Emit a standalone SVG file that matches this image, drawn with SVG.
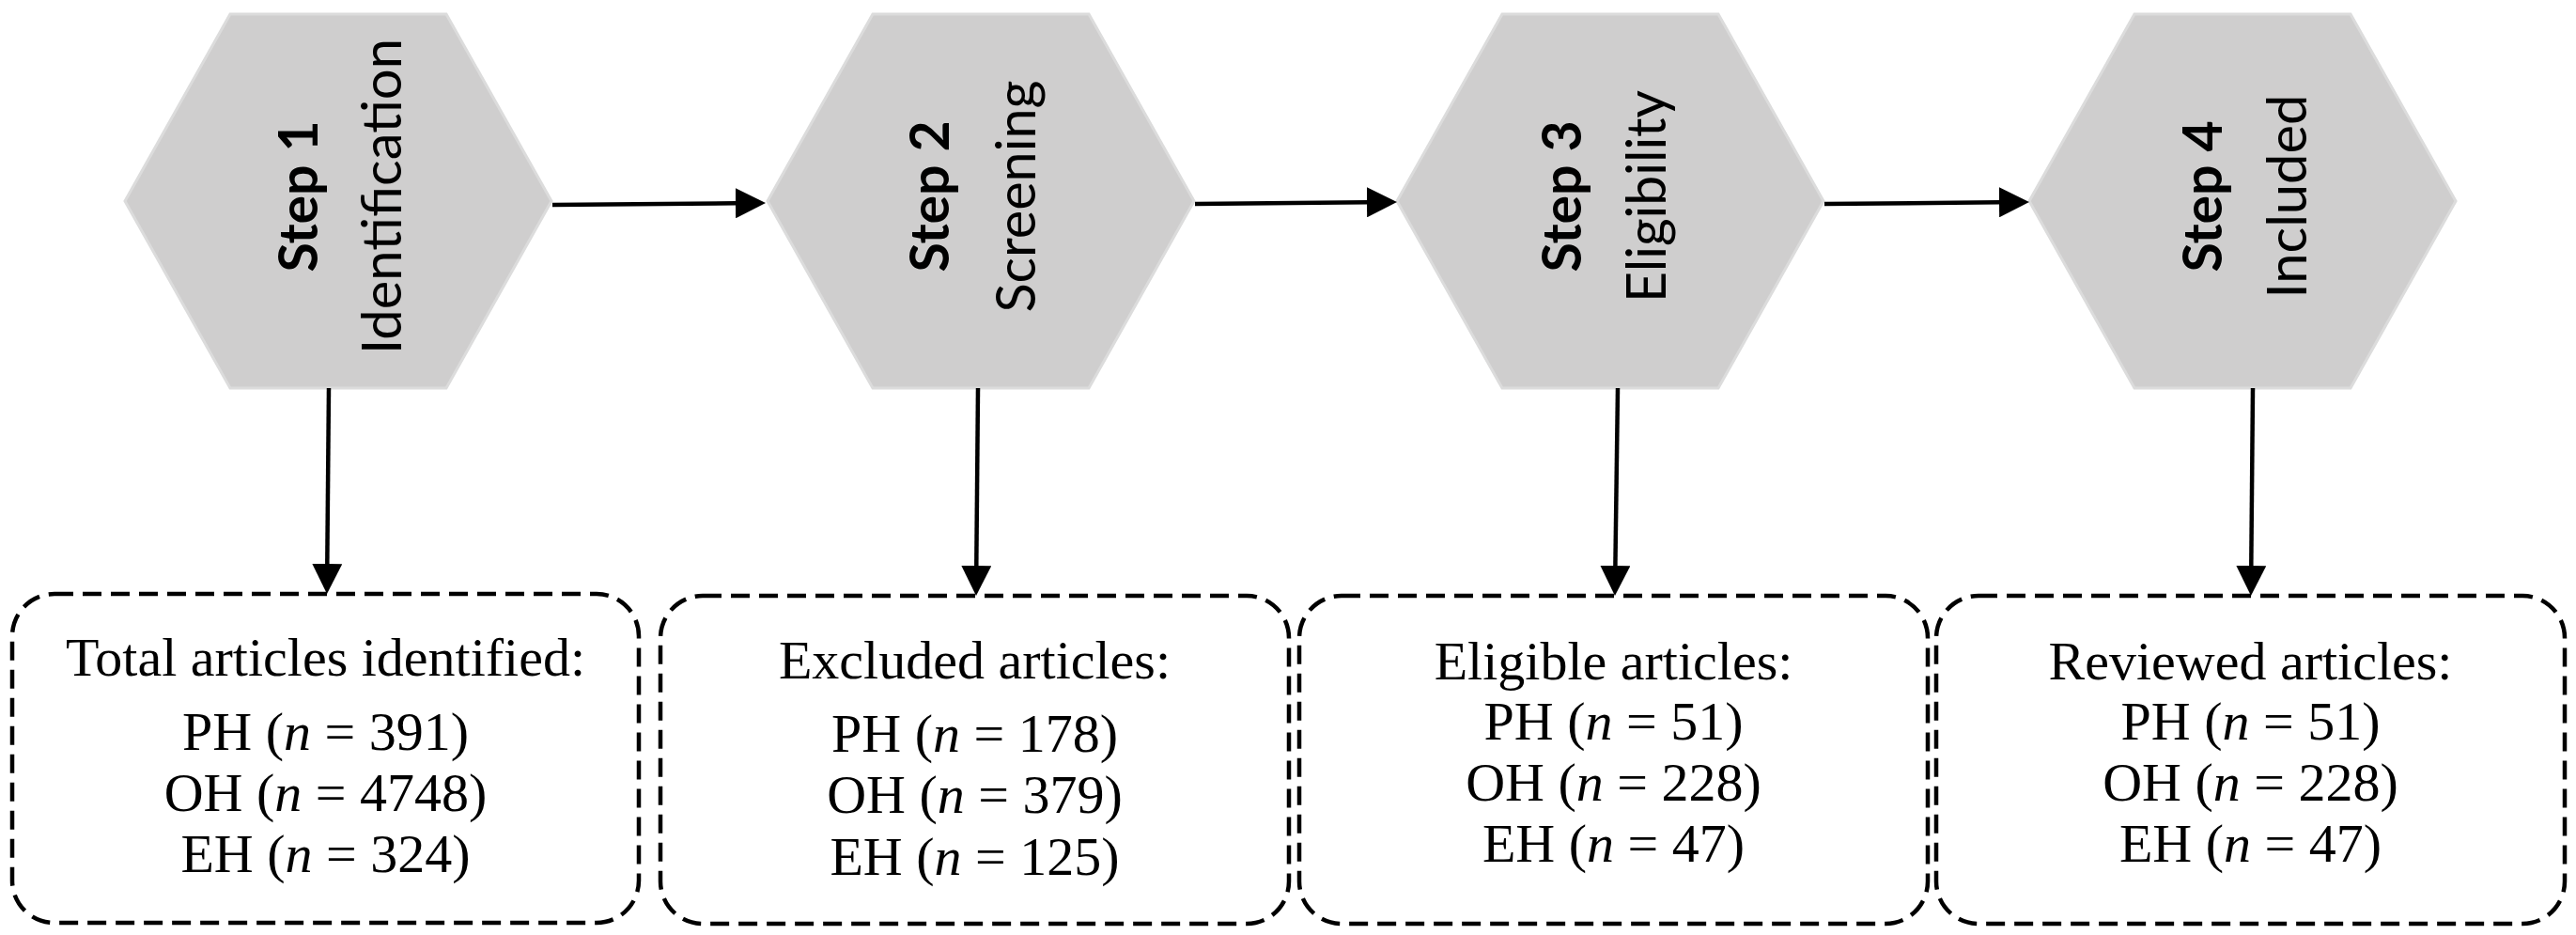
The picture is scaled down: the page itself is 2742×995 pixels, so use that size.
<svg xmlns="http://www.w3.org/2000/svg" width="2742" height="995" viewBox="0 0 2742 995">
<style>
.hex{fill:#cfcece;stroke:#dcdcdc;stroke-width:3}
.step{font-family:Lato,"Open Sans","Liberation Sans",sans-serif;font-size:58px;font-weight:bold;fill:#000;text-anchor:middle}
.lbl{font-family:Lato,"Open Sans","Liberation Sans",sans-serif;font-size:58px;fill:#000;text-anchor:middle}
.box{fill:none;stroke:#000;stroke-width:4.5;stroke-dasharray:20 10}
.bt{font-family:"Liberation Serif","Times New Roman",serif;font-size:58px;fill:#000;text-anchor:middle}
.conn{stroke:#000;stroke-width:4.5;fill:none}
.i{font-style:italic}
</style>
<defs>
<marker id="ah" viewBox="0 0 32 32" refX="0" refY="16" markerWidth="32" markerHeight="32" markerUnits="userSpaceOnUse" orient="auto">
<path d="M0,0 L32,16 L0,32 Z" fill="#000"/>
</marker>
</defs>

<g id="step1">
<polygon class="hex" points="133,214 245,15 475,15 587,214 475,413 245,413"/>
<text class="step" transform="translate(338,209) rotate(-90)" textLength="161" lengthAdjust="spacingAndGlyphs">Step 1</text>
<text class="lbl" transform="translate(427,209) rotate(-90)" textLength="336" lengthAdjust="spacingAndGlyphs">Identification</text>
</g>
<g id="step2">
<polygon class="hex" points="817,214 929,15 1159,15 1271,214 1159,413 929,413"/>
<text class="step" transform="translate(1010,209) rotate(-90)" textLength="161" lengthAdjust="spacingAndGlyphs">Step 2</text>
<text class="lbl" transform="translate(1102,209) rotate(-90)" textLength="247" lengthAdjust="spacingAndGlyphs">Screening</text>
</g>
<g id="step3">
<polygon class="hex" points="1487,214 1599,15 1829,15 1941,214 1829,413 1599,413"/>
<text class="step" transform="translate(1683,209) rotate(-90)" textLength="161" lengthAdjust="spacingAndGlyphs">Step 3</text>
<text class="lbl" transform="translate(1773,209) rotate(-90)" textLength="226" lengthAdjust="spacingAndGlyphs">Eligibility</text>
</g>
<g id="step4">
<polygon class="hex" points="2160,214 2272,15 2502,15 2614,214 2502,413 2272,413"/>
<text class="step" transform="translate(2365,209) rotate(-90)" textLength="161" lengthAdjust="spacingAndGlyphs">Step 4</text>
<text class="lbl" transform="translate(2455,209) rotate(-90)" textLength="217" lengthAdjust="spacingAndGlyphs">Included</text>
</g>

<g id="box1">
<rect class="box" x="13" y="632" width="667" height="350" rx="45" ry="45"/>
<text class="bt" x="346.5" y="719">Total articles identified:</text>
<text class="bt" x="346.5" y="798">PH (<tspan class="i">n</tspan> = 391)</text>
<text class="bt" x="346.5" y="863">OH (<tspan class="i">n</tspan> = 4748)</text>
<text class="bt" x="346.5" y="928">EH (<tspan class="i">n</tspan> = 324)</text>
</g>
<g id="box2">
<rect class="box" x="703" y="634" width="669" height="349" rx="45" ry="45"/>
<text class="bt" x="1037.5" y="722">Excluded articles:</text>
<text class="bt" x="1037.5" y="800">PH (<tspan class="i">n</tspan> = 178)</text>
<text class="bt" x="1037.5" y="865">OH (<tspan class="i">n</tspan> = 379)</text>
<text class="bt" x="1037.5" y="931">EH (<tspan class="i">n</tspan> = 125)</text>
</g>
<g id="box3">
<rect class="box" x="1383" y="634" width="669" height="349" rx="45" ry="45"/>
<text class="bt" x="1717.5" y="723">Eligible articles:</text>
<text class="bt" x="1717.5" y="787">PH (<tspan class="i">n</tspan> = 51)</text>
<text class="bt" x="1717.5" y="852">OH (<tspan class="i">n</tspan> = 228)</text>
<text class="bt" x="1717.5" y="917">EH (<tspan class="i">n</tspan> = 47)</text>
</g>
<g id="box4">
<rect class="box" x="2061" y="634" width="669" height="349" rx="45" ry="45"/>
<text class="bt" x="2395.5" y="723">Reviewed articles:</text>
<text class="bt" x="2395.5" y="787">PH (<tspan class="i">n</tspan> = 51)</text>
<text class="bt" x="2395.5" y="852">OH (<tspan class="i">n</tspan> = 228)</text>
<text class="bt" x="2395.5" y="917">EH (<tspan class="i">n</tspan> = 47)</text>
</g>

<g id="connectors">
<line class="conn" x1="588" y1="218" x2="783" y2="216.3" marker-end="url(#ah)"/>
<line class="conn" x1="1272" y1="217" x2="1455" y2="215.3" marker-end="url(#ah)"/>
<line class="conn" x1="1942" y1="217" x2="2128" y2="215.3" marker-end="url(#ah)"/>
<line class="conn" x1="350" y1="413" x2="348.3" y2="600" marker-end="url(#ah)"/>
<line class="conn" x1="1041" y1="413" x2="1039.3" y2="602" marker-end="url(#ah)"/>
<line class="conn" x1="1722" y1="413" x2="1719.4" y2="602" marker-end="url(#ah)"/>
<line class="conn" x1="2398" y1="413" x2="2396.3" y2="602" marker-end="url(#ah)"/>
</g>
</svg>
